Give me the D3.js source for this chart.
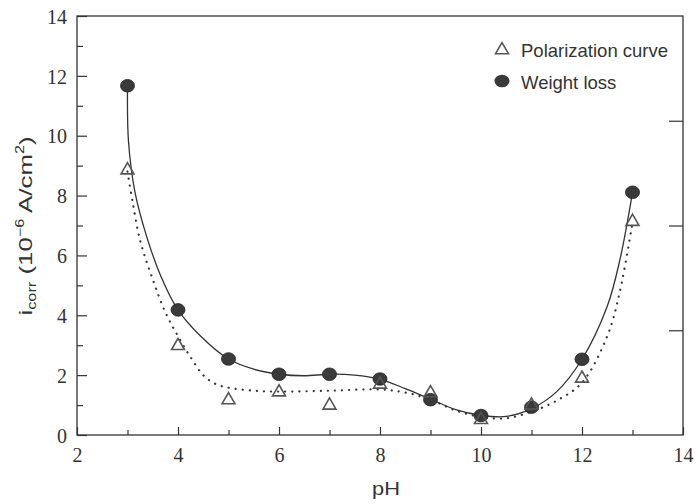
<!DOCTYPE html>
<html lang="en">
<meta charset="UTF-8">
<style>
    body { margin: 0; background: #fff; }
    .frame { fill: none; stroke: #333; stroke-width: 1.3px; }
    .tick line { stroke: #333; stroke-width: 1.2px; }
    .fit { fill: none; stroke: #333; stroke-width: 1.3px; }
    .fit-dot { fill: none; stroke: #333; stroke-width: 2.2px; stroke-linecap: round; stroke-dasharray: 0.1 7; }
    .lbl { font-family: "Liberation Sans", Arial, sans-serif; fill: #333; }
    .num { font-family: "Liberation Serif", "DejaVu Serif", serif; font-size: 20px; fill: #333; }
</style>
<body>
<svg width="697" height="504" id="chart"></svg>
<script src="https://d3js.org/d3.v7.min.js"></script>
<script>
// measured points
const phValues = [3, 4, 5, 6, 7, 8, 9, 10, 11, 12, 13];
const weightLoss = [11.67, 4.18, 2.54, 2.03, 2.03, 1.87, 1.18, 0.65, 0.93, 2.53, 8.11];
const polarization = [8.85, 2.98, 1.17, 1.43, 0.99, 1.69, 1.40, 0.51, 0.99, 1.89, 7.13];

// fitted curves
const solidPH  = [3, 3.02, 3.15, 3.38, 3.65, 4, 4.45, 5, 5.5, 6, 6.5, 7, 7.5, 8, 8.5, 9, 9.5, 10, 10.5, 11, 11.5, 12, 12.5, 12.75, 13];
const solidVal = [11.67, 9.8, 8.1, 6.63, 5.35, 4.18, 3.3, 2.54, 2.2, 2.03, 1.98, 2.03, 2.0, 1.86, 1.55, 1.2, 0.85, 0.66, 0.62, 0.88, 1.45, 2.53, 4.3, 5.85, 8.11];
const dotPH  = [3, 3.1, 3.25, 3.5, 3.75, 4, 4.25, 4.5, 4.75, 5, 5.5, 6, 7, 8, 8.5, 9, 9.5, 10, 10.5, 11, 11.5, 12, 12.5, 12.75, 13];
const dotVal = [8.8, 7.8, 6.5, 5.2, 4.1, 3.3, 2.6, 2.0, 1.7, 1.58, 1.48, 1.45, 1.48, 1.52, 1.42, 1.18, 0.82, 0.6, 0.56, 0.78, 1.15, 1.75, 3.3, 4.8, 7.1];

const xTicks = [2, 4, 6, 8, 10, 12, 14];
const xMinor = [3, 5, 7, 9, 11, 13];
const yTicks = [0, 2, 4, 6, 8, 10, 12, 14];
const yMinor = [1, 3, 5, 7, 9, 11, 13];
const rightTicks = [3.5, 7, 10.5];
const legendNames = ["Polarization curve", "Weight loss"];

const svg = d3.select('#chart');
const plotLeft = 77, plotRight = 683, plotTop = 16, plotBottom = 435;

const x = d3.scaleLinear().domain([2, 14]).range([plotLeft, plotRight]);
const y = d3.scaleLinear().domain([0, 14]).range([plotBottom, plotTop]);

// axes, ticks inward
const gx = svg.append('g').attr('transform', `translate(0,${plotBottom})`)
    .call(d3.axisBottom(x).tickValues(xTicks).tickSize(-8).tickPadding(13));
gx.select('.domain').remove();
gx.attr('font-family', null).attr('font-size', null);
gx.selectAll('.tick text').attr('class', 'num');
svg.append('g').attr('transform', `translate(0,${plotBottom})`)
    .call(d3.axisBottom(x).tickValues(xMinor).tickSize(-5).tickFormat(''))
    .select('.domain').remove();

const gy = svg.append('g').attr('transform', `translate(${plotLeft},0)`)
    .call(d3.axisLeft(y).tickValues(yTicks).tickSize(-10).tickPadding(10));
gy.select('.domain').remove();
gy.attr('font-family', null).attr('font-size', null);
gy.selectAll('.tick text').attr('class', 'num').attr('dy', '0.36em');
svg.append('g').attr('transform', `translate(${plotLeft},0)`)
    .call(d3.axisLeft(y).tickValues(yMinor).tickSize(-6).tickFormat(''))
    .select('.domain').remove();
svg.append('g').attr('transform', `translate(${plotRight},0)`)
    .call(d3.axisRight(y).tickValues(rightTicks).tickSize(-14).tickFormat(''))
    .select('.domain').remove();

svg.append('rect').attr('class', 'frame')
    .attr('x', plotLeft).attr('y', plotTop)
    .attr('width', plotRight - plotLeft).attr('height', plotBottom - plotTop);

// fitted lines
const line = d3.line().x(d => x(d[0])).y(d => y(d[1])).curve(d3.curveCatmullRom.alpha(0.5));
svg.append('path').attr('class', 'fit-dot')
    .attr('d', line(dotPH.map((p, i) => [p, dotVal[i]])));
svg.append('path').attr('class', 'fit')
    .attr('d', line(solidPH.map((p, i) => [p, solidVal[i]])));

// markers
const tri = d3.symbol().type(d3.symbolTriangle).size(72);
svg.append('g').selectAll('ellipse')
    .data(phValues.map((p, i) => [p, weightLoss[i]]))
    .enter().append('ellipse')
    .attr('cx', d => x(d[0])).attr('cy', d => y(d[1]))
    .attr('rx', 7).attr('ry', 6.3)
    .attr('fill', '#3a3a3a').attr('stroke', '#222').attr('stroke-width', 0.8);
svg.append('g').selectAll('path')
    .data(phValues.map((p, i) => [p, polarization[i]]))
    .enter().append('path')
    .attr('d', tri)
    .attr('transform', d => `translate(${x(d[0])},${y(d[1])})`)
    .attr('fill', 'none').attr('stroke', '#555').attr('stroke-width', 1.6);

// legend
svg.append('path').attr('d', tri)
    .attr('transform', 'translate(502,50)')
    .attr('fill', 'none').attr('stroke', '#555').attr('stroke-width', 1.6);
svg.append('ellipse').attr('cx', 502).attr('cy', 81).attr('rx', 7.5).attr('ry', 6.3)
    .attr('fill', '#3a3a3a');
svg.selectAll('.legtext').data(legendNames).enter().append('text')
    .attr('class', 'lbl legtext')
    .attr('x', 521).attr('y', (d, i) => 56.5 + i * 32)
    .attr('font-size', '18.5px')
    .text(d => d);

// axis titles
svg.append('text').attr('class', 'lbl')
    .attr('transform', 'translate(386,495) scale(1.18,1)')
    .attr('text-anchor', 'middle').attr('font-size', '18.5px')
    .text('pH');

const yt = svg.append('text').attr('class', 'lbl')
    .attr('transform', 'translate(32,226) rotate(-90) scale(1.36,1)')
    .attr('text-anchor', 'middle').attr('font-size', '19px');
yt.append('tspan').text('i');
yt.append('tspan').attr('dy', 4).attr('font-size', '12px').text('corr');
yt.append('tspan').attr('dy', -4).text(' (10');
yt.append('tspan').attr('dy', -8).attr('font-size', '12px').text('\u22126');
yt.append('tspan').attr('dy', 8).text(' A/cm');
yt.append('tspan').attr('dy', -8).attr('font-size', '12px').text('2');
yt.append('tspan').attr('dy', 8).text(')');
</script>
</body>
</html>
